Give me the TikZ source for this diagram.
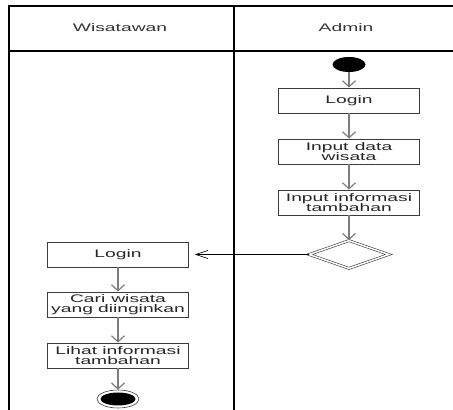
\documentclass[tikz,border=0pt]{standalone}
\usepackage{fontspec}
\setmainfont{Liberation Sans}[FakeStretch=1.75]
\usetikzlibrary{shapes.geometric,arrows.meta}
\definecolor{flowgray}{RGB}{125,125,125}
\definecolor{boxgray}{RGB}{60,60,60}
\tikzstyle{lane} = [draw, line width=1.2pt]
\tikzstyle{lanetitle} = [text=black!80, font=\fontsize{11}{10.5}\selectfont]
\tikzstyle{startnode} = [ellipse, fill=black, minimum width=33pt, minimum height=15pt,
  inner sep=0pt]
\tikzstyle{activity} = [rectangle, draw=boxgray, line width=0.9pt, minimum width=141pt,
  minimum height=25pt, text width=139pt, align=center, inner sep=0pt, text=black!85,
  font=\fontsize{11}{10.5}\selectfont,
  execute at begin node={\spaceskip=5pt plus 1pt\relax}]
\tikzstyle{decision} = [diamond, draw=boxgray, double, double distance=1.5pt,
  line width=0.6pt, minimum width=80pt, minimum height=28pt, inner sep=0pt]
\tikzstyle{endnode} = [ellipse, draw=boxgray, line width=0.6pt, minimum width=42pt,
  minimum height=18pt, inner sep=0pt]
\tikzstyle{enddot} = [ellipse, fill=black, minimum width=35pt, minimum height=13pt,
  inner sep=0pt]
\tikzstyle{line} = [draw=flowgray, line width=1.5pt,
  -{Straight Barb[length=6pt,width=13pt,line width=1.2pt]}]
\tikzstyle{message} = [draw, line width=0.6pt,
  -{Straight Barb[length=12pt,width=8pt,line width=0.6pt]}, shorten >=6pt]

\begin{document}
\begin{tikzpicture}[x=1pt, y=1pt, node distance=51pt]
    \useasboundingbox (0,0) rectangle (453,410);
    % swimlanes
    \draw[lane] (453,404) -- (9,404) -- (9,0);
    \draw[lane] (9,359) -- (453,359);
    \draw[lane] (234,404) -- (234,0);
    \node[lanetitle] (wisatawan) at (120,382) {Wisatawan};
    \node[lanetitle] (admin) at (346,382) {Admin};

    % admin
    \node[startnode] (start) at (349,345.5) {};
    \node[activity, below of=start, node distance=36pt] (loginadmin) {Login};
    \node[activity, below of=loginadmin] (inputdata) {Input data\\wisata};
    \node[activity, below of=inputdata] (inputinfo) {Input informasi\\tambahan};
    \node[decision, below of=inputinfo, node distance=52pt] (merge) {};

    % wisatawan
    \node[activity, left of=merge, node distance=231pt] (loginwisata) {Login};
    \node[activity, below of=loginwisata, node distance=50pt] (cari) {Cari wisata\\yang diinginkan};
    \node[activity, below of=cari] (lihat) {Lihat informasi\\tambahan};
    \node[endnode, below of=lihat, node distance=43.5pt] (finish) {};
    \node[enddot] (finishdot) at (finish.center) {};

    \path[line] (start) -- (loginadmin);
    \path[line] (loginadmin) -- (inputdata);
    \path[line] (inputdata) -- (inputinfo);
    \path[line] (inputinfo) -- (merge);
    \path[message] (merge) -- (loginwisata);
    \path[line] (loginwisata) -- (cari);
    \path[line] (cari) -- (lihat);
    \path[line] (lihat) -- (finish);
  \end{tikzpicture}
\end{document}
